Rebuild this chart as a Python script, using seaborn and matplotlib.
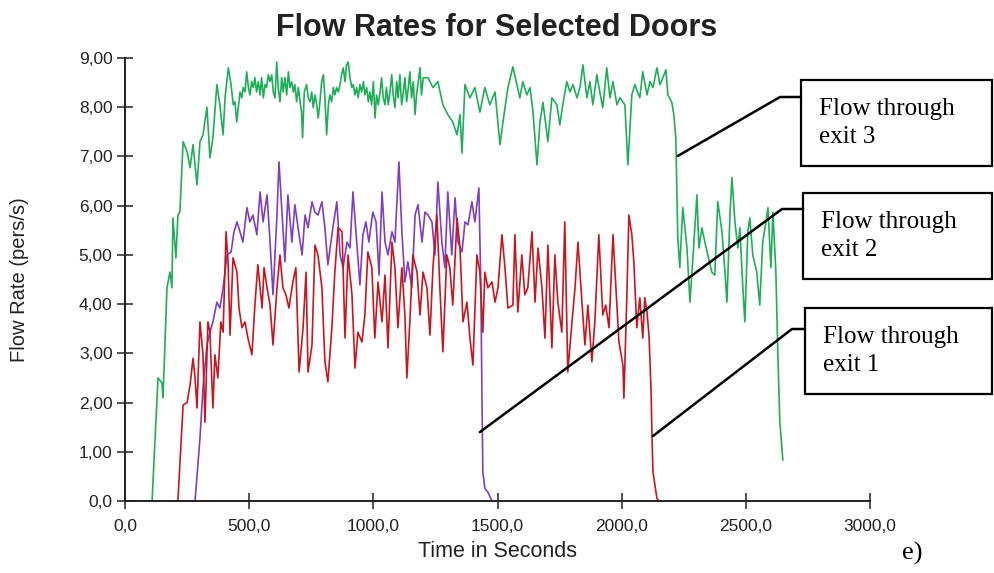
import matplotlib
matplotlib.use("Agg")
import numpy as np
import pandas as pd
import seaborn as sns
import matplotlib.pyplot as plt
from matplotlib.patches import Rectangle
from matplotlib.lines import Line2D

# ---------------- data ----------------
# exit 3 (green), split in three stretches
exit3_rise_t = [0, 109, 133, 149, 153, 169, 181, 189, 193, 205, 213, 221, 234, 250, 262, 274, 282,
                290, 302, 314, 330, 342, 354, 370, 382, 395]
exit3_rise_v = [0.0, 0.0, 2.50, 2.40, 2.10, 4.33, 4.65, 4.33, 5.75, 4.94, 5.80, 5.87, 7.30, 7.10,
                6.77, 7.24, 6.83, 6.42, 7.30, 7.44, 8.00, 6.97, 7.38, 8.46, 8.05, 7.44]

exit3_mid_t = [403, 416, 427, 436, 443, 450, 456, 463, 470, 476, 483, 490, 497, 503, 510, 517, 523,
               530, 537, 544, 550, 557, 564, 570, 577, 584, 591, 597, 604, 611, 617, 624, 631, 637,
               644, 651, 658, 664, 671, 678, 684, 691, 698, 705, 711, 715, 722, 731, 738, 745, 752,
               758, 765, 772, 778, 785, 792, 799, 805, 812, 819, 825, 832, 839, 845, 852, 859, 866,
               872, 879, 886, 892, 899, 906, 913, 919, 926, 933, 939, 946, 953, 960, 966, 973, 980,
               986, 993, 1000, 1007, 1013, 1020, 1027, 1033, 1040, 1047, 1053, 1060, 1067, 1074,
               1080, 1087, 1094, 1100, 1107, 1114, 1121, 1127, 1134, 1141, 1147, 1154, 1161, 1168,
               1174, 1181, 1188, 1194, 1201]
exit3_mid_v = [8.20, 8.80, 8.46, 8.05, 8.11, 7.70, 7.99, 8.31, 8.19, 8.40, 8.31, 8.72, 8.40, 8.25,
               8.52, 8.40, 8.60, 8.31, 8.52, 8.25, 8.60, 8.19, 8.46, 8.40, 8.66, 8.52, 8.66, 8.31,
               8.19, 8.92, 8.40, 8.11, 8.60, 8.31, 8.60, 8.25, 8.72, 8.40, 8.52, 8.31, 8.46, 8.11,
               8.40, 8.11, 7.90, 7.38, 8.31, 8.46, 8.19, 8.11, 8.31, 7.99, 8.25, 8.05, 7.78, 8.11,
               8.52, 8.66, 8.19, 7.44, 8.05, 8.25, 8.11, 8.40, 8.25, 8.40, 8.31, 8.46, 8.66, 8.80,
               8.52, 8.86, 8.92, 8.60, 8.40, 8.46, 8.25, 8.40, 8.19, 8.46, 8.31, 8.52, 8.25, 8.40,
               8.11, 8.31, 8.05, 8.52, 7.78, 8.25, 8.05, 8.31, 8.60, 8.19, 8.05, 8.40, 8.05, 8.31,
               8.66, 8.25, 7.99, 8.52, 8.19, 8.66, 8.05, 8.31, 8.60, 8.11, 8.40, 8.72, 8.19, 8.52,
               7.85, 8.25, 8.52, 8.80, 8.25, 8.60]

exit3_late_t = [1220, 1240, 1260, 1280, 1300, 1320, 1337, 1349, 1357, 1369, 1389, 1409, 1429, 1449,
                1469, 1490, 1510, 1522, 1542, 1562, 1578, 1590, 1602, 1618, 1631, 1643, 1659, 1671,
                1683, 1703, 1719, 1739, 1751, 1763, 1779, 1792, 1804, 1820, 1832, 1844, 1860, 1872,
                1884, 1900, 1912, 1924, 1940, 1953, 1965, 1981, 1993, 2013, 2025, 2041, 2053, 2073,
                2085, 2102, 2114, 2126, 2142, 2154, 2166, 2178, 2186, 2202, 2210, 2218, 2222, 2226,
                2234, 2246, 2263, 2275, 2287, 2303, 2311, 2323, 2335, 2347, 2363, 2375, 2387, 2404,
                2416, 2424, 2436, 2444, 2456, 2468, 2476, 2488, 2496, 2508, 2516, 2528, 2544, 2556,
                2568, 2581, 2589, 2601, 2609, 2621, 2629, 2637, 2649]
exit3_late_v = [8.60, 8.40, 8.52, 8.05, 7.85, 7.70, 7.44, 7.85, 7.07, 8.46, 8.19, 8.40, 7.90, 8.40,
                8.05, 8.31, 7.24, 7.70, 8.40, 8.82, 8.46, 8.19, 8.52, 8.25, 8.40, 7.90, 6.83, 7.70,
                8.10, 7.30, 8.19, 8.05, 7.64, 8.05, 8.52, 8.31, 8.46, 8.19, 8.40, 8.86, 8.19, 8.52,
                8.05, 8.66, 8.31, 7.99, 8.80, 8.19, 8.52, 8.05, 8.19, 8.05, 6.83, 8.25, 8.46, 8.19,
                8.72, 8.25, 8.52, 8.40, 8.80, 8.46, 8.60, 8.76, 8.25, 8.10, 7.85, 7.38, 6.36, 5.35,
                4.74, 5.96, 5.14, 4.04, 4.94, 6.22, 5.14, 5.55, 5.26, 5.00, 4.65, 4.59, 6.08, 5.47,
                4.65, 4.04, 5.81, 6.57, 5.67, 5.14, 5.55, 4.33, 3.64, 5.47, 5.75, 5.00, 4.65, 3.98,
                5.26, 5.67, 5.96, 4.74, 5.87, 4.65, 2.97, 1.60, 0.83]

exit1_t = [0, 213, 234, 250, 262, 274, 282, 290, 302, 314, 322, 334, 342, 354, 362, 374, 386, 395,
           407, 415, 423, 435, 451, 459, 471, 483, 495, 511, 523, 535, 552, 560, 572, 584, 596,
           612, 624, 636, 648, 660, 676, 688, 701, 717, 729, 737, 753, 765, 777, 793, 805, 817,
           833, 845, 858, 874, 886, 898, 914, 926, 938, 954, 966, 978, 994, 1006, 1019, 1035,
           1047, 1059, 1075, 1087, 1099, 1115, 1127, 1135, 1147, 1159, 1176, 1188, 1200, 1216,
           1228, 1240, 1256, 1268, 1280, 1296, 1308, 1320, 1337, 1349, 1361, 1377, 1389, 1401,
           1417, 1429, 1441, 1449, 1461, 1478, 1490, 1502, 1518, 1530, 1542, 1562, 1570, 1582,
           1598, 1610, 1622, 1639, 1651, 1663, 1679, 1691, 1703, 1719, 1731, 1743, 1759, 1771,
           1783, 1800, 1812, 1824, 1840, 1852, 1864, 1880, 1892, 1908, 1924, 1936, 1949, 1965,
           1977, 1989, 2005, 2009, 2021, 2029, 2041, 2049, 2061, 2073, 2085, 2093, 2102, 2110,
           2118, 2122, 2126, 2142, 2150]
exit1_v = [0.0, 0.0, 1.95, 2.00, 2.36, 2.90, 2.50, 1.89, 3.64, 2.97, 1.60, 3.64, 3.43, 1.89, 2.97,
           2.50, 3.64, 3.43, 5.47, 4.86, 3.37, 4.94, 4.65, 3.92, 3.52, 3.64, 3.31, 2.97, 3.98,
           4.80, 3.92, 4.74, 4.33, 3.98, 3.17, 4.33, 5.00, 4.33, 4.19, 3.92, 4.45, 4.74, 2.62,
           3.52, 4.65, 2.62, 3.17, 5.20, 5.00, 4.33, 2.83, 2.42, 3.52, 4.65, 5.55, 5.47, 3.31,
           5.00, 4.19, 2.70, 3.43, 3.23, 3.78, 5.06, 4.74, 3.31, 4.45, 3.64, 4.59, 3.11, 5.26,
           4.74, 3.52, 4.74, 3.78, 2.50, 3.64, 5.00, 4.65, 3.78, 4.65, 4.33, 3.37, 4.74, 5.81,
           4.33, 3.03, 5.00, 4.74, 3.98, 5.75, 5.14, 3.64, 4.04, 3.31, 2.76, 5.00, 4.65, 3.43,
           4.65, 4.33, 4.45, 4.04, 4.33, 5.41, 4.74, 3.92, 3.98, 5.41, 3.84, 5.00, 4.19, 4.33,
           5.47, 4.04, 5.14, 4.33, 3.31, 5.20, 3.11, 5.00, 4.04, 3.43, 5.67, 2.62, 3.64, 4.33,
           5.26, 4.04, 3.17, 3.98, 2.83, 3.64, 5.41, 3.78, 3.98, 3.52, 5.41, 4.33, 3.23, 2.76,
           2.09, 4.19, 5.81, 5.41, 4.86, 3.52, 4.13, 3.31, 4.13, 3.84, 3.37, 2.30, 1.34, 0.59,
           0.05, 0.0]

exit2_t = [0, 282, 302, 314, 330, 342, 354, 370, 382, 395, 411, 427, 439, 451, 463, 475, 491, 503,
           515, 531, 544, 556, 572, 584, 596, 612, 620, 632, 644, 656, 672, 684, 697, 713, 725,
           737, 753, 765, 777, 793, 805, 817, 837, 853, 866, 878, 894, 906, 918, 934, 946, 958,
           970, 982, 998, 1011, 1023, 1035, 1047, 1059, 1075, 1087, 1103, 1115, 1127, 1139, 1155,
           1168, 1180, 1196, 1208, 1220, 1236, 1248, 1260, 1276, 1288, 1300, 1316, 1329, 1341,
           1357, 1369, 1381, 1397, 1409, 1425, 1433, 1437, 1441, 1449, 1461, 1478]
exit2_v = [0.0, 0.0, 1.28, 2.30, 3.17, 3.43, 3.64, 4.04, 3.92, 4.33, 5.00, 5.06, 5.47, 5.67, 5.47,
           5.26, 5.96, 5.67, 5.81, 5.41, 6.28, 5.67, 6.22, 5.26, 4.19, 5.81, 6.89, 5.87, 4.86,
           6.22, 5.26, 6.02, 5.55, 5.00, 5.81, 5.55, 6.08, 5.87, 5.81, 6.08, 5.55, 4.80, 5.55,
           6.08, 5.00, 4.74, 5.26, 5.14, 6.28, 5.20, 4.39, 5.41, 5.67, 5.26, 5.87, 5.67, 4.59,
           6.28, 5.26, 5.00, 5.47, 5.26, 6.89, 5.47, 4.45, 4.86, 4.33, 5.81, 6.02, 5.26, 5.87,
           5.81, 5.67, 5.00, 6.48, 5.26, 4.74, 6.28, 5.00, 6.16, 5.26, 5.06, 5.67, 5.61, 6.08,
           5.67, 6.36, 4.33, 2.30, 0.59, 0.26, 0.18, 0.0]

series_names = ["Flow through exit 3", "Flow through exit 2", "Flow through exit 1"]
series_colors = ["#1fae58", "#7d3fbf", "#c9161e"]

x_ticks = [0, 500, 1000, 1500, 2000, 2500, 3000]
x_ticklabels = ["0,0", "500,0", "1000,0", "1500,0", "2000,0", "2500,0", "3000,0"]
y_ticks = [0, 1, 2, 3, 4, 5, 6, 7, 8, 9]
y_ticklabels = ["0,0", "1,00", "2,00", "3,00", "4,00", "5,00", "6,00", "7,00", "8,00", "9,00"]

# ---------------- figure ----------------
sns.set_style("white")
plt.rcParams['font.family'] = ['Liberation Sans', 'DejaVu Sans']

W, H = 994, 573
fig = plt.figure(figsize=(W / 100, H / 100), dpi=100)
fig.patch.set_facecolor("white")

def fp(x, y):
    """pixel (from top-left) -> figure fraction"""
    return x / W, 1 - y / H

ax = fig.add_axes([125 / W, (H - 501) / H, (870 - 125) / W, (501 - 58) / H])

exit3_t = exit3_rise_t + exit3_mid_t + exit3_late_t
exit3_v = exit3_rise_v + exit3_mid_v + exit3_late_v

df = pd.concat([
    pd.DataFrame({"t": exit3_t, "v": exit3_v, "exit": series_names[0]}),
    pd.DataFrame({"t": exit2_t, "v": exit2_v, "exit": series_names[1]}),
    pd.DataFrame({"t": exit1_t, "v": exit1_v, "exit": series_names[2]}),
], ignore_index=True)

sns.lineplot(data=df, x="t", y="v", hue="exit", hue_order=series_names,
             palette=series_colors, estimator=None, sort=False, legend=False,
             linewidth=1.2, ax=ax)

ax.set_xlim(0, 3000)
ax.set_ylim(0, 9)
ax.set_xticks(x_ticks)
ax.set_xticklabels(x_ticklabels)
ax.set_yticks(y_ticks)
ax.set_yticklabels(y_ticklabels)
ax.tick_params(axis="both", which="major", bottom=True, left=True, direction="inout",
               length=12, width=1.1, color="#222222", labelsize=12.5, labelcolor="#222222")
ax.tick_params(axis="x", pad=7)
ax.tick_params(axis="y", pad=3)
for side in ["top", "right"]:
    ax.spines[side].set_visible(False)
for side in ["left", "bottom"]:
    ax.spines[side].set_color("#222222")
    ax.spines[side].set_linewidth(1.4)
ax.set_xlabel("Time in Seconds", fontsize=15.5, color="#222222", labelpad=5)
ax.set_ylabel("Flow Rate (pers/s)", fontsize=14.5, color="#222222")
ax.yaxis.set_label_coords((29 - 125) / 745, 0.5)
ax.grid(False)

fig.text(*fp(497, 28), "Flow Rates for Selected Doors", ha="center", va="center",
         fontsize=22, fontweight="bold", color="#222222")

# ---------------- callout boxes ----------------
serif = ['Liberation Serif', 'DejaVu Serif']
boxes = [
    ("Flow through\nexit 3", 801, 80, 166, (2226, 7.01), (780, 97)),
    ("Flow through\nexit 2", 803, 193, 279, (1429, 1.40), (782, 209)),
    ("Flow through\nexit 1", 805, 308, 394, (2126, 1.32), (792, 329)),
]
fig.canvas.draw()
to_fig = fig.transFigure.inverted()
for label, bx, top, bot, anchor, bend in boxes:
    x0, y0 = fp(bx, bot)
    x1, y1 = fp(992, top)
    fig.add_artist(Rectangle((x0, y0), x1 - x0, y1 - y0, transform=fig.transFigure,
                             facecolor="white", edgecolor="black", linewidth=1.6))
    fig.text(*fp(bx + 18, (top + bot) / 2), label, ha="left", va="center",
             family=serif, fontsize=18, linespacing=1.3, color="black")
    ax_pt = to_fig.transform(ax.transData.transform(anchor))
    bpt = fp(*bend)
    ept = fp(bx, bend[1])
    fig.add_artist(Line2D([ax_pt[0], bpt[0], ept[0]], [ax_pt[1], bpt[1], ept[1]],
                          transform=fig.transFigure, color="black", linewidth=1.8))

fig.text(*fp(912, 553), "e)", ha="center", va="center", family=serif, fontsize=19,
         color="black")

fig.savefig("out.png", dpi=100)
